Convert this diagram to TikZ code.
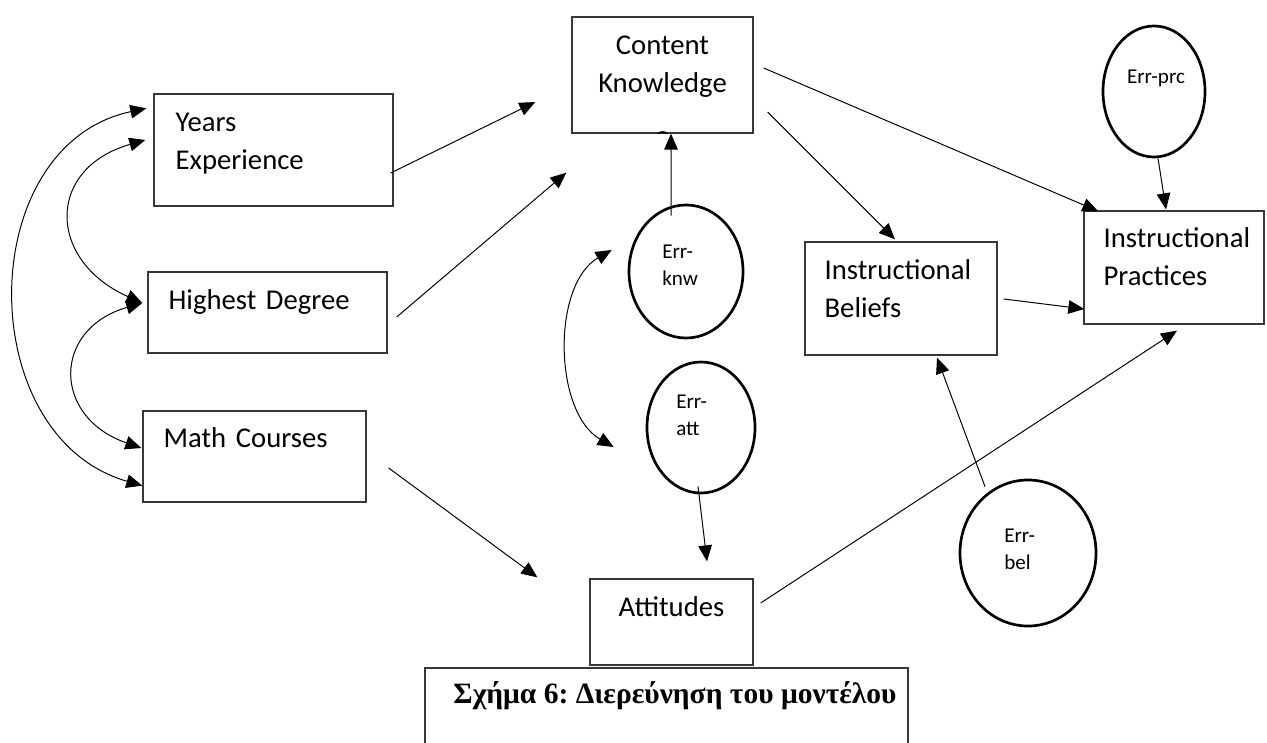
\documentclass[tikz,border=0pt]{standalone}
\usepackage{fontspec}
\setmainfont{Carlito}
\newfontfamily\capfont{Liberation Serif}
\usetikzlibrary{shapes.geometric, arrows.meta, positioning, calc}
\definecolor{boxgray}{RGB}{55, 55, 55}
\frenchspacing

\begin{document}
\begin{tikzpicture}[
        x=0.025cm, y=0.025cm,
        box/.style={rectangle, draw=boxgray, line width=0.9pt, inner sep=0pt},
        boxtext/.style={inner sep=0pt, text width=5.5cm, align=left, anchor=base west, font=\fontsize{20.4}{26.8}\selectfont},
        midtext/.style={inner sep=0pt, text width=4cm, align=center, anchor=base, font=\fontsize{20.4}{26.8}\selectfont},
        err/.style={ellipse, draw=black, line width=1.9pt, inner sep=0pt},
        errtext/.style={inner sep=0pt, text width=2cm, align=left, anchor=base west, font=\fontsize{15}{19.9}\selectfont},
        arrow/.style={-{Triangle[length=0.4cm, width=0.34cm]}, line width=0.7pt},
        twoway/.style={{Triangle[length=0.4cm, width=0.34cm]}-{Triangle[length=0.4cm, width=0.34cm]}, line width=0.7pt}
    ]
        \useasboundingbox (0,0) rectangle (1267,-742);

        % Background variables
        \node[box, minimum width=5.975cm, minimum height=2.8cm] (yexp) at (273.5,-150) {};
        \node[box, minimum width=5.975cm, minimum height=2.025cm] (hdeg) at (267.5,-312.5) {};
        \node[box, minimum width=5.575cm, minimum height=2.275cm] (math) at (254.5,-456.5) {};
        \node[boxtext] (yexptxt) at ($(yexp.north west)+(22,-38)$) {Years\\Experience};
        \node[boxtext] (hdegtxt) at ($(hdeg.north west)+(21,-38)$) {Highest Degree};
        \node[boxtext] (mathtxt) at ($(math.north west)+(21,-37)$) {Math Courses};

        % Teacher variables
        \node[box, minimum width=4.525cm, minimum height=2.9cm] (cknow) at (662.5,-75) {};
        \node[box, minimum width=4.075cm, minimum height=2.15cm] (atti) at (671.5,-622) {};
        \node[box, minimum width=4.8cm, minimum height=2.825cm] (ibel) at (901,-298.5) {};
        \node[box, minimum width=4.5cm, minimum height=2.825cm] (ipract) at (1174,-267.5) {};
        \begin{scope}
            \clip (cknow.south west) rectangle (cknow.north east);
            \node[midtext] (cknowtxt) at ($(cknow.north)+(0,-38)$) {Content\\Knowledge\\[0.4cm]e};
        \end{scope}
        \node[midtext] (attitxt) at ($(atti.north)+(0,-38)$) {Attitudes};
        \node[boxtext] (ibeltxt) at ($(ibel.north west)+(20,-38)$) {Instructional\\Beliefs};
        \node[boxtext] (iprtxt) at ($(ipract.north west)+(20,-37)$) {Instructional\\Practices};

        % Error terms
        \node[err, minimum width=2.55cm, minimum height=3.275cm] (errprc) at (1154,-91.5) {};
        \node[err, minimum width=2.85cm, minimum height=3.325cm] (errknw) at (686,-271.5) {};
        \node[err, minimum width=2.7cm, minimum height=3.275cm] (erratt) at (701,-427.5) {};
        \node[err, minimum width=3.4cm, minimum height=3.65cm] (errbel) at (1028,-553) {};
        \node[errtext, anchor=base, align=center] (errprctxt) at ($(errprc.center)+(2,8.5)$) {Err-prc};
        \node[errtext] (errknwtxt) at ($(errknw.center)+(-24,13.5)$) {Err-\\knw};
        \node[errtext] (errattxt) at ($(erratt.center)+(-25,19.5)$) {Err-\\att};
        \node[errtext] (errbeltxt) at ($(errbel.center)+(-24,11)$) {Err-\\bel};

        % Caption
        \node[box, minimum width=12.075cm, minimum height=2cm] (caption) at (666.5,-708) {};
        \node[inner sep=0pt, anchor=base, font=\capfont\bfseries\fontsize{21}{24}\selectfont] (captxt) at ($(caption.north)+(8.5,-36)$) {Σχήμα 6: Διερεύνηση του μοντέλου};

        % Correlations
        \draw[twoway] ($(yexp.north west)+(-7,-15)$) to[out=192, in=164, looseness=1.2] ($(math.south west)+(0,17)$);
        \draw[twoway] ($(yexp.west)+(-8,10)$) to[out=196, in=156, looseness=1.63] ($(hdeg.west)+(-5,9.5)$);
        \draw[twoway] ($(hdeg.west)+(-5,9.5)$) to[out=196, in=161, looseness=1.66] ($(math.west)+(-1,8.5)$);
        \draw[twoway] ($(errknw.west)+(-16,21.5)$) to[out=210, in=150, looseness=0.9] ($(erratt.west)+(-32,-19.5)$);

        % Paths
        \draw[arrow] ($(yexp.east)+(-3,-23)$) -- ($(cknow.west)+(-36,-27)$);
        \draw[arrow] ($(hdeg.east)+(9,-4.5)$) -- ($(cknow.south west)+(-5,-39)$);
        \draw[arrow] ($(math.east)+(22,-11.5)$) -- ($(atti.north west)+(-52,1)$);
        \draw[arrow] ($(errknw.north)+(-15,-12)$) -- ($(cknow.south)+(8.5,0)$);
        \draw[arrow] ($(erratt.south)+(-3,8)$) -- ($(atti.north)+(35.5,17)$);
        \draw[arrow] ($(cknow.east)+(14,-37)$) -- ($(ibel.north)+(-6,2)$);
        \draw[arrow] ($(cknow.east)+(10,7)$) -- ($(ipract.north west)+(15,-1)$);
        \draw[arrow] ($(ibel.east)+(6,-0.5)$) -- ($(ipract.west)+(1,-41.5)$);
        \draw[arrow] ($(atti.east)+(7,19)$) -- ($(ipract.south)+(3,-6)$);
        \draw[arrow] ($(errbel.north)+(-43,-8)$) -- ($(ibel.south)+(36,-2)$);
        \draw[arrow] ($(errprc.south)+(4,0)$) -- ($(ipract.north)+(-8,1)$);

    \end{tikzpicture}
\end{document}
